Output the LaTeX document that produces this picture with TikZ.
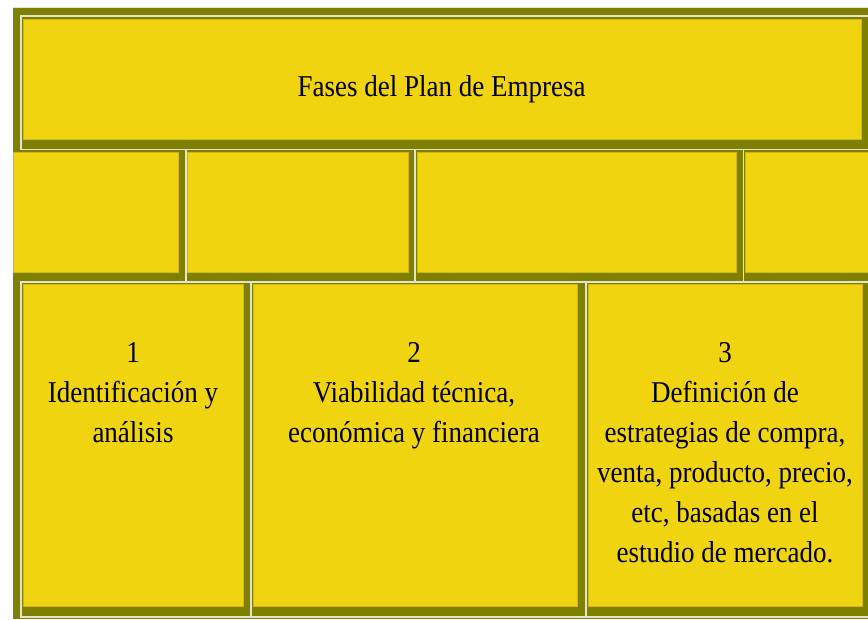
\documentclass[tikz,border=0pt]{standalone}
\usepackage{fontspec}
\setmainfont{Liberation Serif}
\usepackage{graphicx}
\definecolor{myolive}{HTML}{808000}
\definecolor{myyellow}{HTML}{F0D410}
\definecolor{myyellowdark}{HTML}{D2B80C}
\definecolor{mylight}{HTML}{E4E4CC}
\newcommand{\vs}[1]{\scalebox{1}[1.12]{#1}}
\tikzset{
  cell/.style={fill=myyellow, draw=myyellowdark, line width=0.8pt, inner sep=0pt, outer sep=0pt, anchor=north west},
  hl/.style={draw=mylight, line width=1.6pt},
  lbl/.style={font=\fontsize{27}{40}\selectfont, align=center, inner sep=0pt, text=black}
}
\begin{document}
\begin{tikzpicture}[x=1pt,y=-1pt]
\useasboundingbox (0,0) rectangle (868,619);
\fill[white] (0,0) rectangle (868,619);
\fill[myolive] (13,7) rectangle (868,619);
\draw[hl, line width=1pt] (13,7.5) -- (868,7.5);
% top row highlight
\draw[hl] (21,149) -- (21,16) -- (868,16);
% middle row highlights
\draw[hl] (20,149.5) -- (868,149.5);
\draw[hl] (185.7,149.5) -- (185.7,282);
\draw[hl] (415,149.5) -- (415,282);
\draw[hl] (743.5,149.5) -- (743.5,282);
% bottom row highlights
\draw[hl] (868,282) -- (21,282) -- (21,617) -- (868,617);
\draw[hl] (251,282) -- (251,617);
\draw[hl] (586,282) -- (586,617);
% cells
\node[cell, minimum width=838pt, minimum height=120pt] (head) at (23,19) {};
\node[cell, minimum width=165pt, minimum height=120pt] (m1) at (13,152) {};
\node[cell, minimum width=221pt, minimum height=120pt] (m2) at (187,152) {};
\node[cell, minimum width=319pt, minimum height=120pt] (m3) at (417,152) {};
\node[cell, minimum width=123pt, minimum height=120pt] (m4) at (745,152) {};
\node[cell, minimum width=220pt, minimum height=322pt] (b1) at (23,284) {};
\node[cell, minimum width=324pt, minimum height=322pt] (b2) at (253,284) {};
\node[cell, minimum width=274pt, minimum height=322pt] (b3) at (588,284) {};
% texts
\node[lbl, anchor=base] (title) at (441.5,96.7) {\vs{Fases del Plan de Empresa}};
\node[lbl, anchor=north] (t1) at (133,342.6) {\vs{1}\\\vs{Identificación y}\\\vs{análisis}};
\node[lbl, anchor=north] (t2) at (414,342.6) {\vs{2}\\\vs{Viabilidad técnica,}\\\vs{económica y financiera}};
\node[lbl, anchor=north] (t3) at (725,342.6) {\vs{3}\\\vs{Definición de}\\\vs{estrategias de compra,}\\\vs{venta, producto, precio,}\\\vs{etc, basadas en el}\\\vs{estudio de mercado.}};
\end{tikzpicture}
\end{document}
